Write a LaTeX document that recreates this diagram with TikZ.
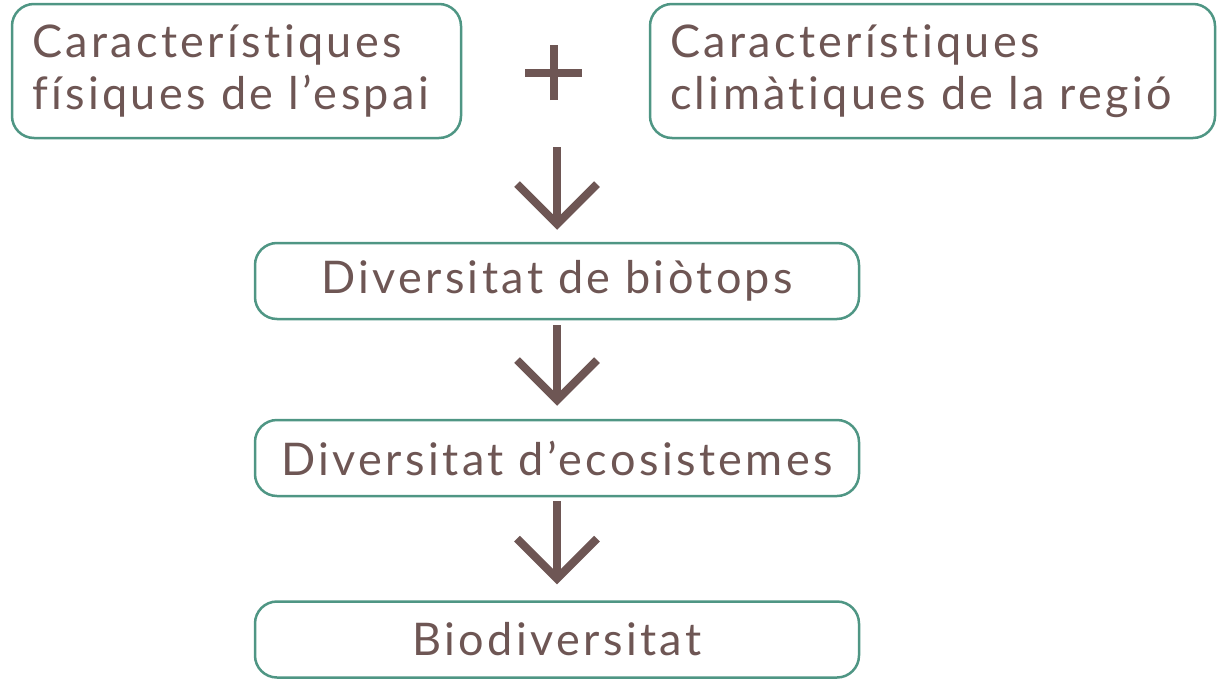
\documentclass[tikz,border=0pt]{standalone}
\usepackage{fontspec}
\setmainfont[LetterSpace=7.5, Ligatures=NoCommon]{Lato}
\usetikzlibrary{arrows.meta}
\definecolor{bark}{HTML}{6E5654}
\definecolor{sage}{HTML}{4F9684}

\begin{document}
\begin{tikzpicture}[x=1pt, y=-1pt,
    every node/.style={text=bark, font=\fontsize{45}{52}\selectfont},
    card/.style={draw=sage, line width=2.5pt, rounded corners=22pt, minimum height=76pt, inner sep=0pt},
    flow/.style={draw=bark, line width=8pt, -{Straight Barb[length=40pt, width=80pt]}}]
    \useasboundingbox (0,0) rectangle (1217,680);
        \node[card, minimum width=449pt, minimum height=134pt, text width=409pt, align=left] (fisic) at (236.5,71) {Característiques\\físiques de l’espai};
        \node[card, minimum width=565pt, minimum height=134pt, text width=525pt, align=left] (clima) at (932.5,71) {Característiques\\climàtiques de la regió};
        \node[card, minimum width=604pt] (biotop) at (557,281) {Diversitat de biòtops};
        \node[card, minimum width=604pt] (ecosis) at (557,458) {Diversitat d’ecosistemes};
        \node[card, minimum width=604pt] (biodiv) at (557,639.5) {Biodiversitat};
        \coordinate (plus) at (553.5,72.5);
        \draw[bark, line width=8pt] ([xshift=-28.5pt]plus) -- ([xshift=28.5pt]plus) ([yshift=-27.5pt]plus) -- ([yshift=27.5pt]plus);
        \coordinate (top) at (557,147);
        \draw[flow, shorten >=12pt] (top) -- (biotop.north);
        \draw[flow, shorten <=5pt, shorten >=13pt] (biotop.south) -- (ecosis.north);
        \draw[flow, shorten <=4pt, shorten >=16pt] (ecosis.south) -- (biodiv.north);
    \end{tikzpicture}
\end{document}
